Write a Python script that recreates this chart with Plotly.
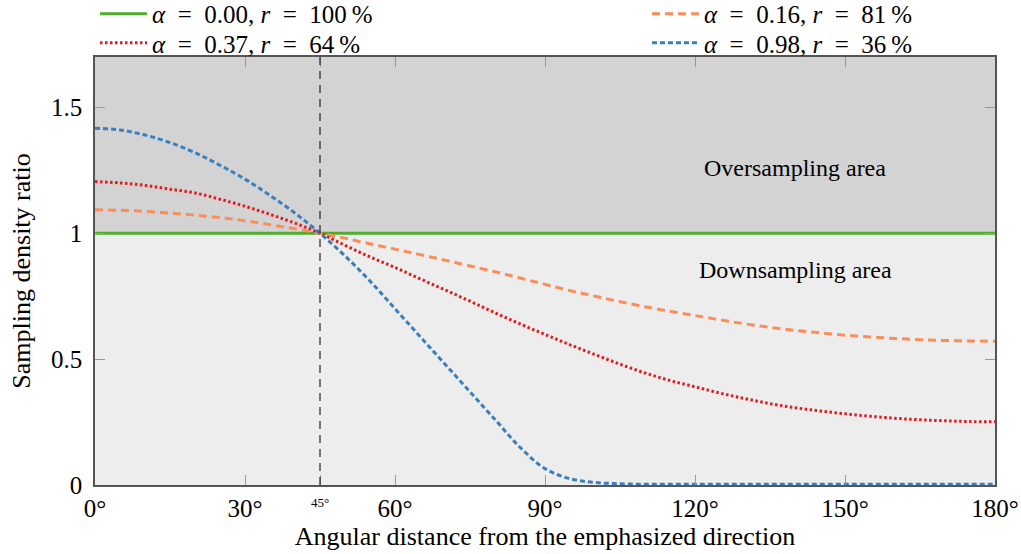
import plotly.graph_objects as go

# ---- data ----
angles = [0, 5, 10, 15, 20, 25, 30, 35, 40, 45, 50, 55, 60, 65, 70, 75, 80, 85, 90,
          95, 100, 105, 110, 115, 120, 125, 130, 135, 140, 145, 150, 155, 160, 165,
          170, 175, 180]

ratio_a000 = [1.0] * 37

ratio_a016 = [1.093, 1.091, 1.087, 1.080, 1.072, 1.062, 1.050, 1.034, 1.018, 1.000,
              0.980, 0.958, 0.937, 0.915, 0.893, 0.870, 0.847, 0.822, 0.797,
              0.772, 0.750, 0.728, 0.708, 0.690, 0.673, 0.656, 0.640, 0.626, 0.614,
              0.604, 0.595, 0.588, 0.582, 0.577, 0.574, 0.572, 0.571]

ratio_a037 = [1.205, 1.200, 1.190, 1.175, 1.160, 1.135, 1.107, 1.075, 1.040, 1.000,
              0.952, 0.906, 0.864, 0.819, 0.775, 0.730, 0.684, 0.640, 0.598,
              0.557, 0.518, 0.480, 0.445, 0.415, 0.390, 0.365, 0.343, 0.323, 0.307,
              0.294, 0.283, 0.273, 0.265, 0.259, 0.255, 0.252, 0.251]

ratio_a098 = [1.417, 1.410, 1.390, 1.360, 1.320, 1.270, 1.215, 1.150, 1.080, 1.000,
              0.910, 0.810, 0.700, 0.590, 0.480, 0.370, 0.260, 0.150, 0.065,
              0.025, 0.010, 0.005, 0.003, 0.003, 0.003, 0.003, 0.003, 0.003, 0.003,
              0.003, 0.003, 0.003, 0.003, 0.003, 0.003, 0.003, 0.003]

SP = "\u2002"
names = [f"<i>α</i>{SP}={SP}0.00, <i>r</i>{SP}={SP}100\u2009%",
         f"<i>α</i>{SP}={SP}0.16, <i>r</i>{SP}={SP}81\u2009%",
         f"<i>α</i>{SP}={SP}0.37, <i>r</i>{SP}={SP}64\u2009%",
         f"<i>α</i>{SP}={SP}0.98, <i>r</i>{SP}={SP}36\u2009%"]

x_tickvals = [0, 30, 45, 60, 90, 120, 150, 180]
x_ticktext = ["0°", "30°", "", "60°", "90°", "120°", "150°", "180°"]
y_tickvals = [0, 0.5, 1, 1.5]
y_ticktext = ["0", "0.5", "1", "1.5"]

FONT = "Liberation Serif"

fig = go.Figure()

fig.add_trace(go.Scatter(x=angles, y=ratio_a000, mode="lines", name=names[0],
                         line=dict(color="#4dae2c", width=3), legend="legend",
                         showlegend=True))
fig.add_trace(go.Scatter(x=angles, y=ratio_a016, mode="lines", name=names[1],
                         line=dict(color="#fc8d59", width=3, dash="8px,5px"),
                         line_shape="spline", legend="legend2", showlegend=True))
fig.add_trace(go.Scatter(x=angles, y=ratio_a037, mode="lines", name=names[2],
                         line=dict(color="#e41a1c", width=3, dash="2.5px,2.5px"),
                         line_shape="spline", legend="legend3", showlegend=True))
fig.add_trace(go.Scatter(x=angles, y=ratio_a098, mode="lines", name=names[3],
                         line=dict(color="#3a7fbd", width=3, dash="5px,3px"),
                         line_shape="spline", legend="legend4", showlegend=True))

# shaded areas
fig.add_shape(type="rect", xref="x", yref="y", x0=0, x1=180, y0=1, y1=1.7,
              fillcolor="#d3d3d3", line_width=0, layer="below")
fig.add_shape(type="rect", xref="x", yref="y", x0=0, x1=180, y0=0, y1=1,
              fillcolor="#ededed", line_width=0, layer="below")
# 45 degree marker
fig.add_shape(type="line", xref="x", yref="y", x0=45, x1=45, y0=0, y1=1.7,
              line=dict(color="#222222", width=1.2, dash="8px,6px"))

fig.add_annotation(x=140, y=1.258, xref="x", yref="y", text="Oversampling area",
                   showarrow=False, font=dict(family=FONT, size=24, color="black"))
fig.add_annotation(x=140, y=0.853, xref="x", yref="y", text="Downsampling area",
                   showarrow=False, font=dict(family=FONT, size=24, color="black"))
fig.add_annotation(x=45, y=-0.042, xref="x", yref="paper", text="45°",
                   showarrow=False, yanchor="middle",
                   font=dict(family=FONT, size=13, color="black"))

axis_common = dict(showgrid=False, zeroline=False, showline=True, linecolor="#555555",
                   linewidth=1.5, mirror="ticks", ticks="inside", ticklen=10,
                   tickcolor="#999999", tickwidth=1, automargin=False,
                   tickfont=dict(family=FONT, size=25, color="black"))

def leg(xp, yp):
    return dict(x=xp, y=yp, xanchor="left", yanchor="middle", orientation="v",
                bgcolor="rgba(0,0,0,0)", font=dict(family=FONT, size=25),
                itemwidth=47, borderwidth=0, visible=True)

fig.update_layout(
    width=1021, height=554, showlegend=True,
    margin=dict(l=95, r=26, t=57, b=69, autoexpand=False),
    paper_bgcolor="white", plot_bgcolor="#ededed",
    font=dict(family=FONT, size=24, color="black"),
    xaxis=dict(range=[0, 180], tickvals=x_tickvals, ticktext=x_ticktext,
               title=dict(text="Angular distance from the emphasized direction",
                          font=dict(family=FONT, size=26), standoff=1),
               **axis_common),
    yaxis=dict(range=[0, 1.7], tickvals=y_tickvals, ticktext=y_ticktext,
               ticklabelstandoff=6,
               title=dict(text="Sampling density ratio",
                          font=dict(family=FONT, size=26), standoff=13),
               **axis_common),
    legend=leg(0.0, 1.1005),
    legend2=leg(0.6133, 1.1005),
    legend3=leg(0.0, 1.0327),
    legend4=leg(0.6133, 1.0327),
)

fig.write_html("out.html", config={"displayModeBar": False},
               post_script="document.body.style.margin='0';document.body.style.padding='0';")
